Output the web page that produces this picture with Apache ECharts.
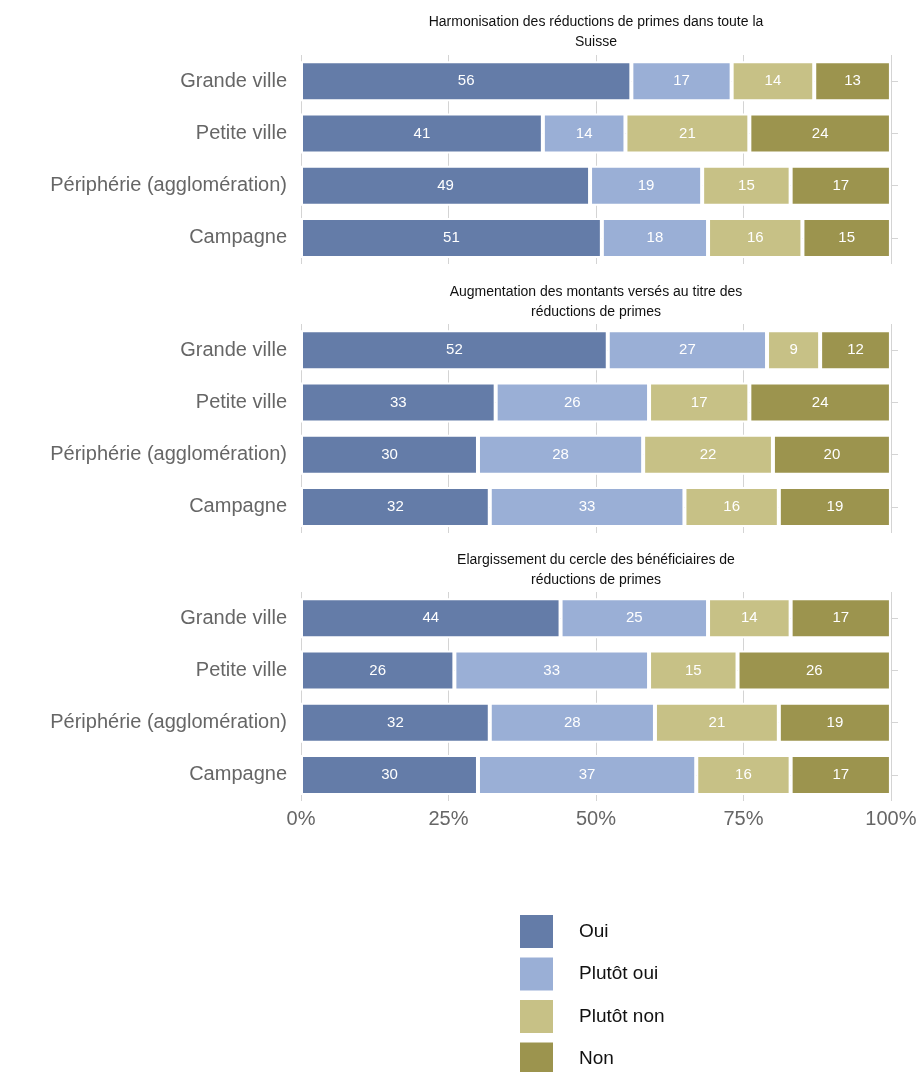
<!DOCTYPE html>
<html>
<head>
<meta charset="utf-8">
<script src="https://cdn.jsdelivr.net/npm/echarts@6/dist/echarts.min.js"></script>
<style>
  html, body { margin: 0; padding: 0; background: #fff; }
  #chart { width: 924px; height: 1072px; }
</style>
</head>
<body>
<div id="chart"></div>
<script>
const categories = ["Grande ville", "Petite ville", "Périphérie (agglomération)", "Campagne"];
const responses = ["Oui", "Plutôt oui", "Plutôt non", "Non"];
const facetTitles = [
  "Harmonisation des réductions de primes dans toute la\nSuisse",
  "Augmentation des montants versés au titre des\nréductions de primes",
  "Elargissement du cercle des bénéficiaires de\nréductions de primes",
];
// one row per response, values per category (%)
const harmonisation = [
  [56, 41, 49, 51],
  [17, 14, 19, 18],
  [14, 21, 15, 16],
  [13, 24, 17, 15],
];
const augmentation = [
  [52, 33, 30, 32],
  [27, 26, 28, 33],
  [9, 17, 22, 16],
  [12, 24, 20, 19],
];
const elargissement = [
  [44, 26, 32, 30],
  [25, 33, 28, 37],
  [14, 15, 21, 16],
  [17, 26, 19, 17],
];
const xTicks = [0, 25, 50, 75, 100];

const colors = ["#647ca8", "#9aafd6", "#c7c186", "#9c944e"];
const font = "'Liberation Sans', Helvetica, Arial, sans-serif";
const facets = [harmonisation, augmentation, elargissement];
const gridTops = [55, 324, 592];
const titleTops = [12, 282, 550];

const chart = echarts.init(document.getElementById("chart"));

const grids = gridTops.map((top) => ({ left: 301, right: 26, top, height: 209 }));

const xAxes = facets.map((_, i) => ({
  type: "value",
  gridIndex: i,
  min: 0,
  max: 101.2,
  axisLine: { show: false },
  axisTick: { show: false, customValues: xTicks },
  splitLine: { show: true, lineStyle: { color: "#d4d4d4", width: 1 } },
  axisLabel: {
    show: i === 2,
    customValues: xTicks,
    formatter: (v) => v + "%",
    fontSize: 20,
    color: "#666",
    fontFamily: font,
    margin: 8,
  },
}));

const yAxes = facets.map((_, i) => ({
  type: "category",
  gridIndex: i,
  data: categories,
  inverse: true,
  axisLine: { show: false },
  axisTick: { show: false, alignWithLabel: true },
  // lines through the bar centres, only their ends show
  splitLine: { show: true, alignWithLabel: true, lineStyle: { color: "#d4d4d4", width: 1 } },
  axisLabel: { fontSize: 20, color: "#666", fontFamily: font, margin: 14 },
}));

const series = [];
facets.forEach((facet, i) => {
  facet.forEach((values, r) => {
    series.push({
      type: "bar",
      name: responses[r],
      stack: "f" + i,
      xAxisIndex: i,
      yAxisIndex: i,
      barWidth: 40,
      data: values,
      itemStyle: { color: colors[r], borderColor: "#fff", borderWidth: 2 },
      label: {
        show: true,
        position: "inside",
        color: "#fff",
        fontSize: 15,
        fontWeight: "normal",
        fontFamily: font,
      },
    });
  });
});

const option = {
  animation: false,
  backgroundColor: "#fff",
  color: colors,
  textStyle: { fontFamily: font },
  title: facetTitles.map((text, i) => ({
    text,
    left: 596,
    top: titleTops[i],
    padding: 0,
    textAlign: "center",
    textStyle: { fontSize: 14, fontWeight: "normal", color: "#111", lineHeight: 20, fontFamily: font },
  })),
  legend: {
    data: responses,
    orient: "vertical",
    left: 518,
    top: 913,
    height: 200,
    padding: 0,
    itemWidth: 35,
    itemHeight: 35,
    itemGap: 5.5,
    icon: "rect",
    textStyle: { fontSize: 19, lineHeight: 22, color: "#111", fontFamily: font, padding: [0, 0, 0, 20] },
  },
  grid: grids,
  xAxis: xAxes,
  yAxis: yAxes,
  series,
};
chart.setOption(option);
</script>
</body>
</html>
